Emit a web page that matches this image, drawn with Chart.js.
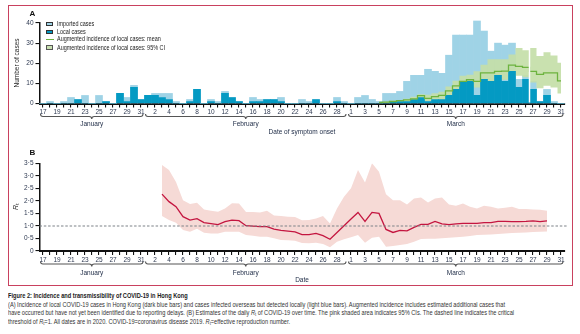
<!DOCTYPE html>
<html>
<head>
<meta charset="utf-8">
<script src="https://cdn.jsdelivr.net/npm/chart.js@4.4.0/dist/chart.umd.min.js"></script>
<style>
  html, body { margin: 0; padding: 0; background: #fff; }
  #page { position: relative; width: 580px; height: 334px; overflow: hidden; font-family: "Liberation Sans", Arial, sans-serif; }
  #frame { position: absolute; left: 8px; top: 5px; width: 565px; height: 281px; box-sizing: border-box; border: 1.5px solid #c9415f; }
  .panel { position: absolute; left: 0; }
  .panel canvas { display: block; }
  #panelA { top: 0; }
  #panelB { top: 140px; }
  .lg-sw { position: absolute; left: 46px; width: 7px; height: 4.5px; box-sizing: border-box; }
  .lg-line { position: absolute; left: 46px; width: 7.5px; height: 1.5px; background: #6db33f; }
  .lg-txt { position: absolute; left: 56.5px; font-size: 7px; line-height: 8px; color: #222; white-space: nowrap; transform-origin: 0 50%; }
  #caption { position: absolute; left: 7.5px; top: 292px; font-size: 7.2px; line-height: 8.6px; color: #333; }
  .cap-line { white-space: nowrap; transform-origin: 0 50%; width: max-content; }
  .cap-title { font-weight: bold; color: #1a1a1a; }
  #caption sub { font-size: 0.7em; line-height: 0; vertical-align: -0.25em; }
</style>
</head>
<body>
<div id="page">
  <div id="frame"></div>
  <div class="panel" id="panelA"><canvas id="chartA" width="580" height="140"></canvas></div>
  <div class="panel" id="panelB"><canvas id="chartB" width="580" height="146"></canvas></div>

  <!-- legend for panel A -->
  <div class="lg-sw" style="top:21.8px;background:#9fd3e6;border:0.8px solid #333;"></div>
  <div class="lg-txt" style="top:20px;">Imported cases</div>
  <div class="lg-sw" style="top:29.5px;background:#049ac3;border:0.8px solid #333;"></div>
  <div class="lg-txt" style="top:27.7px;">Local cases</div>
  <div class="lg-line" style="top:38.6px;"></div>
  <div class="lg-txt" style="top:35.3px;">Augmented incidence of local cases: mean</div>
  <div class="lg-sw" style="top:45.3px;background:#c9e0b1;border:0.8px solid #555;"></div>
  <div class="lg-txt" id="lgLongest" style="top:43.5px;">Augmented incidence of local cases: 95% CI</div>

  <div id="caption">
    <div class="cap-line cap-title">Figure 2: Incidence and transmissibility of COVID-19 in Hong Kong</div>
    <div class="cap-line" id="capRef">(A) Incidence of local COVID-19 cases in Hong Kong (dark blue bars) and cases infected overseas but detected locally (light blue bars). Augmented incidence includes estimated additional cases that</div>
    <div class="cap-line">have occurred but have not yet been identified due to reporting delays. (B) Estimates of the daily <i>R</i><sub>t</sub> of COVID-19 over time. The pink shaded area indicates 95% CIs. The dashed line indicates the critical</div>
    <div class="cap-line">threshold of <i>R</i><sub>t</sub>=1. All dates are in 2020. COVID-19=coronavirus disease 2019. <i>R</i><sub>t</sub>=effective reproduction number.</div>
  </div>
</div>

<script>
// Days shown on the x axis, 17 Jan to 31 Mar 2020
const janDays = [17, 18, 19, 20, 21, 22, 23, 24, 25, 26, 27, 28, 29, 30, 31];
const febDays = [1, 2, 3, 4, 5, 6, 7, 8, 9, 10, 11, 12, 13, 14, 15, 16, 17, 18, 19, 20,
                 21, 22, 23, 24, 25, 26, 27, 28, 29];
const marDays = [1, 2, 3, 4, 5, 6, 7, 8, 9, 10, 11, 12, 13, 14, 15, 16, 17, 18, 19, 20,
                 21, 22, 23, 24, 25, 26, 27, 28, 29, 30, 31];
const monthNames = ['January', 'February', 'March'];

// Panel A: cases by date of symptom onset
const localCases = [
  0, 0, 0, 0, 0, 2, 0, 0, 0, 1, 0, 5, 1, 8, 2,
  4, 4, 3, 2, 0, 0, 1, 7, 0, 1, 0, 5, 3, 1, 0, 1, 1, 2, 2, 1, 0, 0, 0, 0, 2, 0, 0, 1, 0,
  0, 0, 0, 0, 0, 0, 1, 1, 1, 2, 3, 1, 2, 2, 4, 7, 11, 11, 4, 12, 11, 14, 11, 16, 8, 12, 7, 1, 4, 0, 0
];
const importedCases = [
  0, 1, 0, 1, 3, 0, 4, 0, 4, 0, 0, 0, 2, 1, 0,
  0, 1, 2, 3, 1, 0, 1, 0, 0, 1, 1, 1, 0, 0, 0, 2, 1, 0, 0, 2, 0, 0, 2, 1, 0, 0, 0, 2, 1,
  0, 3, 4, 2, 1, 5, 4, 5, 10, 12, 11, 16, 14, 13, 20, 27, 23, 23, 37, 24, 15, 16, 18, 14, 4, 2, 4, 0, 3, 1, 0
];

// Augmented incidence of local cases, 5-31 March
const augmentedStart = 'Mar 5';
const augmentedMean = [0.5, 0.7, 1, 1.4, 1.8, 2.3, 3.9, 2.5, 3.4, 4, 6.3, 8.8, 11, 11.8, 11,
                       15.2, 15.2, 16, 16.1, 19.1, 18.4, 18, 16, 14.5, 15.2, 15.2, 11.2];
const augmentedUpper = [0.6, 0.9, 1.4, 1.8, 2.3, 3.4, 4.6, 4.3, 5.1, 5.9, 8.4, 11.3, 13.8, 14.3, 16,
                        19.3, 22, 22, 22, 24.3, 27.6, 26.5, 27.6, 23.6, 25.5, 23.8, 20.2];
const augmentedLower = [0, 0.4, 0.4, 0.4, 0.9, 1.3, 2, 1.3, 1.8, 1.8, 3.4, 6.4, 8.4, 8.8, 8,
                        10.9, 10.9, 11.4, 11.8, 14.3, 13.8, 13, 10.4, 7.6, 8.8, 8, 5];
const reportingCutoff = 'Mar 27';

// Panel B: daily effective reproduction number, 3 Feb - 29 Mar
const rtStart = 'Feb 3';
const rtMean = [
  2.27, 1.97, 1.77, 1.37, 1.23, 1.29, 1.13, 1.09, 1.05, 1.17, 1.23, 1.21, 1.01, 0.99, 0.97,
  0.97, 0.87, 0.82, 0.79, 0.76, 0.65, 0.65, 0.70, 0.61, 0.47, 0.74, 1.01,
  1.28, 1.54, 1.18, 1.54, 1.50, 0.86, 0.74, 0.82, 0.80, 0.94, 1.06, 1.06, 1.18, 1.08, 1.05,
  1.08, 1.10, 1.10, 1.10, 1.13, 1.13, 1.18, 1.18, 1.17, 1.17, 1.18, 1.20, 1.17, 1.20
];
const rtUpper = [
  3.43, 3.23, 2.75, 2.03, 1.88, 1.93, 1.66, 1.61, 1.57, 1.70, 1.91, 1.90, 1.56, 1.56, 1.54,
  1.61, 1.42, 1.40, 1.37, 1.36, 1.23, 1.24, 1.30, 1.40, 1.10, 1.70, 2.17,
  2.50, 3.23, 2.73, 3.50, 3.16, 2.26, 2.03, 2.03, 1.86, 2.10, 2.14, 1.94, 2.10, 2.14, 1.86,
  1.81, 1.90, 1.77, 1.70, 1.81, 1.77, 1.70, 1.73, 1.77, 1.68, 1.68, 1.66, 1.65, 1.61
];
const rtLower = [
  1.40, 1.24, 1.13, 0.84, 0.77, 0.89, 0.73, 0.70, 0.70, 0.77, 0.77, 0.77, 0.64, 0.61, 0.57,
  0.57, 0.51, 0.44, 0.43, 0.41, 0.32, 0.31, 0.33, 0.28, 0.15, 0.37, 0.47,
  0.55, 0.64, 0.33, 0.53, 0.57, 0.17, 0.20, 0.24, 0.28, 0.37, 0.48, 0.49, 0.49, 0.51, 0.53,
  0.55, 0.57, 0.60, 0.64, 0.65, 0.66, 0.68, 0.70, 0.72, 0.73, 0.74, 0.76, 0.77, 0.78
];
const rtThreshold = 1;

const FONT = '"Liberation Sans", Arial, sans-serif';
const INK = '#111';
const TICK_COLOR = '#2f3a52';

// one category per day
const monthDays = [janDays, febDays, marDays];
const monthShort = ['Jan', 'Feb', 'Mar'];
const labels = [];
const dayText = [];
monthDays.forEach((days, m) => {
  days.forEach(d => { labels.push(monthShort[m] + ' ' + d); dayText.push(String(d)); });
});

// place a partial series on the full date axis
function placeSeries(values, startLabel) {
  const out = labels.map(() => null);
  const s = labels.indexOf(startLabel);
  values.forEach((v, i) => { out[s + i] = v; });
  return out;
}

const totalCases = localCases.map((v, i) => v + importedCases[i]);

function drawBrace(ctx, x1, x2, y, h) {
  const xm = (x1 + x2) / 2;
  ctx.beginPath();
  ctx.moveTo(x1, y - h);
  ctx.quadraticCurveTo(x1, y, x1 + h, y);
  ctx.lineTo(xm - h, y);
  ctx.quadraticCurveTo(xm, y, xm, y + h);
  ctx.quadraticCurveTo(xm, y, xm + h, y);
  ctx.lineTo(x2 - h, y);
  ctx.quadraticCurveTo(x2, y, x2, y - h);
  ctx.stroke();
}

// panel letter, axis titles, month braces and reference lines
const panelDecor = {
  id: 'panelDecor',
  afterDatasetsDraw(chart, args, opts) {
    const { ctx, chartArea, scales: { x, y } } = chart;
    ctx.save();
    if (opts.cutoff) {
      const i = labels.indexOf(opts.cutoff);
      const xc = (x.getPixelForValue(i - 1) + x.getPixelForValue(i)) / 2;
      const top = y.getPixelForValue(Math.max(augmentedUpper[augmentedUpper.length - 1], ...placeSeries(augmentedUpper, augmentedStart).slice(i - 1, i + 1)));
      ctx.strokeStyle = '#fff';
      ctx.lineWidth = 1.5;
      ctx.beginPath();
      ctx.moveTo(xc, top);
      ctx.lineTo(xc, chartArea.bottom - 1);
      ctx.stroke();
    }
    if (opts.threshold != null) {
      const yy = y.getPixelForValue(opts.threshold);
      ctx.strokeStyle = '#7d8288';
      ctx.lineWidth = 1.1;
      ctx.setLineDash([2.5, 1.8]);
      ctx.beginPath();
      ctx.moveTo(chartArea.left, yy);
      ctx.lineTo(chartArea.right + 3, yy);
      ctx.stroke();
    }
    ctx.restore();
  },
  afterDraw(chart, args, opts) {
    const { ctx, scales: { x } } = chart;
    ctx.save();
    ctx.fillStyle = INK;
    ctx.textBaseline = 'middle';
    ctx.textAlign = 'left';
    ctx.font = 'bold 8px ' + FONT;
    ctx.fillText(opts.letter, 29.5, opts.letterY);

    // vertical axis title
    ctx.save();
    ctx.translate(opts.yTitleX, opts.yTitleY);
    ctx.rotate(-Math.PI / 2);
    ctx.fillStyle = '#222';
    if (opts.yTitle === 'Rt') {
      ctx.font = 'italic 7px ' + FONT;
      const wR = ctx.measureText('R').width;
      ctx.font = '5px ' + FONT;
      const wt = ctx.measureText('t').width;
      const sx = -(wR + wt) / 2;
      ctx.font = 'italic 7px ' + FONT;
      ctx.fillText('R', sx, 0);
      ctx.font = '5px ' + FONT;
      ctx.fillText('t', sx + wR, 2);
    } else {
      ctx.textAlign = 'center';
      ctx.font = '6.5px ' + FONT;
      ctx.fillText(opts.yTitle, 0, 0);
    }
    ctx.restore();

    // month braces
    const half = (x.getPixelForValue(1) - x.getPixelForValue(0)) / 2;
    ctx.strokeStyle = '#555';
    ctx.lineWidth = 1.1;
    ctx.fillStyle = '#23304a';
    ctx.textAlign = 'center';
    ctx.font = '6.5px ' + FONT;
    let start = 0;
    monthDays.forEach((days, m) => {
      const end = start + days.length - 1;
      const x1 = x.getPixelForValue(start) - half + 1;
      const x2 = x.getPixelForValue(end) + half - 1.5;
      drawBrace(ctx, x1, x2, opts.braceY, 2.5);
      ctx.fillText(monthNames[m], (x1 + x2) / 2, opts.monthY);
      start = end + 1;
    });

    ctx.fillText(opts.xTitle, 302, opts.xTitleY);
    ctx.restore();
  }
};

function xAxis(height) {
  return {
    type: 'category',
    offset: true,
    grid: { display: true, drawOnChartArea: false, drawTicks: true, tickLength: 4, offset: false, color: INK, lineWidth: 1.1 },
    border: { display: true, color: INK, width: 2 },
    ticks: {
      autoSkip: false, maxRotation: 0, minRotation: 0, padding: 1,
      font: { family: FONT, size: 6.5 }, color: TICK_COLOR,
      callback: (v, i) => (i % 2 === 0 ? dayText[i] : '')
    },
    afterFit: s => { s.height = height; }
  };
}

function yAxis(min, max, step, fmt) {
  return {
    min: min, max: max,
    grid: { drawOnChartArea: false, drawTicks: true, tickLength: 4, color: INK, lineWidth: 1.1 },
    border: { display: true, color: INK, width: 1.5 },
    ticks: { stepSize: step, padding: 2, font: { family: FONT, size: 6.5 }, color: TICK_COLOR, callback: fmt },
    afterFit: s => { s.width = 39.5; }
  };
}

new Chart(document.getElementById('chartA'), {
  data: {
    labels: labels,
    datasets: [
      {
        type: 'bar', label: 'Imported cases', data: totalCases,
        backgroundColor: '#9fd3e6', borderWidth: 0, grouped: false,
        barPercentage: 1, categoryPercentage: 1, order: 4, clip: false
      },
      {
        type: 'line', label: 'Augmented incidence of local cases: 95% CI',
        data: placeSeries(augmentedUpper, augmentedStart),
        stepped: 'middle', borderWidth: 0, pointRadius: 0,
        fill: '+1', backgroundColor: 'rgba(196, 222, 168, 0.92)', order: 3
      },
      {
        type: 'line', label: 'ci-lower',
        data: placeSeries(augmentedLower, augmentedStart),
        stepped: 'middle', borderWidth: 0, pointRadius: 0, fill: false, order: 3
      },
      {
        type: 'bar', label: 'Local cases', data: localCases,
        backgroundColor: '#049ac3', borderWidth: 0, grouped: false,
        barPercentage: 1, categoryPercentage: 1, order: 2
      },
      {
        type: 'line', label: 'Augmented incidence of local cases: mean',
        data: placeSeries(augmentedMean, augmentedStart),
        stepped: 'middle', borderColor: '#6db33f', borderWidth: 1.3,
        pointRadius: 0, fill: false, order: 1
      }
    ]
  },
  options: {
    responsive: false,
    animation: false,
    layout: { padding: { left: 0, right: 15.5, top: 23, bottom: 0 } },
    scales: {
      x: xAxis(36.5),
      y: yAxis(0, 40, 5, v => String(v))
    },
    plugins: {
      legend: { display: false },
      tooltip: { enabled: false },
      panelDecor: {
        letter: 'A', letterY: 13.3,
        yTitle: 'Number of cases', yTitleX: 17, yTitleY: 63,
        braceY: 116.5, monthY: 124, xTitle: 'Date of symptom onset', xTitleY: 132,
        cutoff: reportingCutoff
      }
    }
  },
  plugins: [panelDecor]
});

new Chart(document.getElementById('chartB'), {
  type: 'line',
  data: {
    labels: labels,
    datasets: [
      {
        label: 'Rt 95% CI', data: placeSeries(rtUpper, rtStart),
        borderWidth: 0, pointRadius: 0, fill: '+1',
        backgroundColor: '#f6dad6', order: 3
      },
      {
        label: 'Rt lower', data: placeSeries(rtLower, rtStart),
        borderWidth: 0, pointRadius: 0, fill: false, order: 3
      },
      {
        label: 'Rt', data: placeSeries(rtMean, rtStart),
        borderColor: '#c41640', borderWidth: 1.3, pointRadius: 0, fill: false, order: 1
      }
    ]
  },
  options: {
    responsive: false,
    animation: false,
    layout: { padding: { left: 0, right: 15.5, top: 23.3, bottom: 0 } },
    scales: {
      x: xAxis(35),
      y: yAxis(0, 3.5, 0.5, v => (v === 0 ? '0' : v.toFixed(1).replace('.', '\u00b7')))
    },
    plugins: {
      legend: { display: false },
      tooltip: { enabled: false },
      panelDecor: {
        letter: 'B', letterY: 12.3,
        yTitle: 'Rt', yTitleX: 16, yTitleY: 66.7,
        braceY: 124, monthY: 133, xTitle: 'Date', xTitleY: 140.7,
        threshold: rtThreshold
      }
    }
  },
  plugins: [panelDecor]
});

// condense legend and caption text to the narrow typeface widths
function condense(selector, refEl, target) {
  const k = target / refEl.getBoundingClientRect().width;
  document.querySelectorAll(selector).forEach(el => { el.style.transform = 'scaleX(' + k + ')'; });
}
condense('.lg-txt', document.getElementById('lgLongest'), 108);
condense('.cap-line', document.getElementById('capRef'), 497);
</script>
</body>
</html>
